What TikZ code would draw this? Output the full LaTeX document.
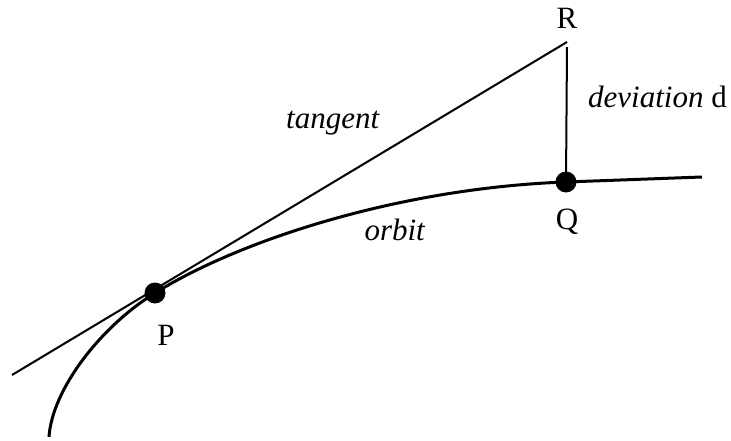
\documentclass[tikz,border=0pt]{standalone}
\usepackage{fontspec}
\setmainfont{Liberation Serif}
\tikzset{
  lbl/.style={font=\fontsize{31}{36}\selectfont, inner sep=0pt},
  dot/.style={circle, fill, minimum size=21pt, inner sep=0pt}
}
\begin{document}
\begin{tikzpicture}[x=1pt, y=-1pt]
  \useasboundingbox (0,0) rectangle (731,441);
  \coordinate (T0) at (12,375);
  \coordinate (R) at (567,42);
  \coordinate (O0) at (49,437);
  \coordinate (O1) at (702,177);
  \node[dot] (P) at (155,293) {};
  \node[dot] (Q) at (566,182) {};

  % tangent and deviation
  \draw[line width=2pt] (T0) -- (R);
  \draw[line width=2pt] (R |- 0,47) -- (Q.center);
  % orbit
  \draw[line width=3pt] (O0) .. controls (52,390) and (100,327) .. (P.center)
    .. controls (240,240) and (400,188) .. (Q.center) -- (O1);

  \node[lbl] (lR) at (567,18) {R};
  \node[lbl] (lQ) at (567,222) {Q};
  \node[lbl] (lP) at (166,335) {P};
  \node[lbl, anchor=west] (ld) at (588,97) {\textit{deviation} d};
  \node[lbl] (lt) at (333,123) {\textit{tangent}};
  \node[lbl] (lo) at (395,230) {\textit{orbit}};
\end{tikzpicture}
\end{document}
